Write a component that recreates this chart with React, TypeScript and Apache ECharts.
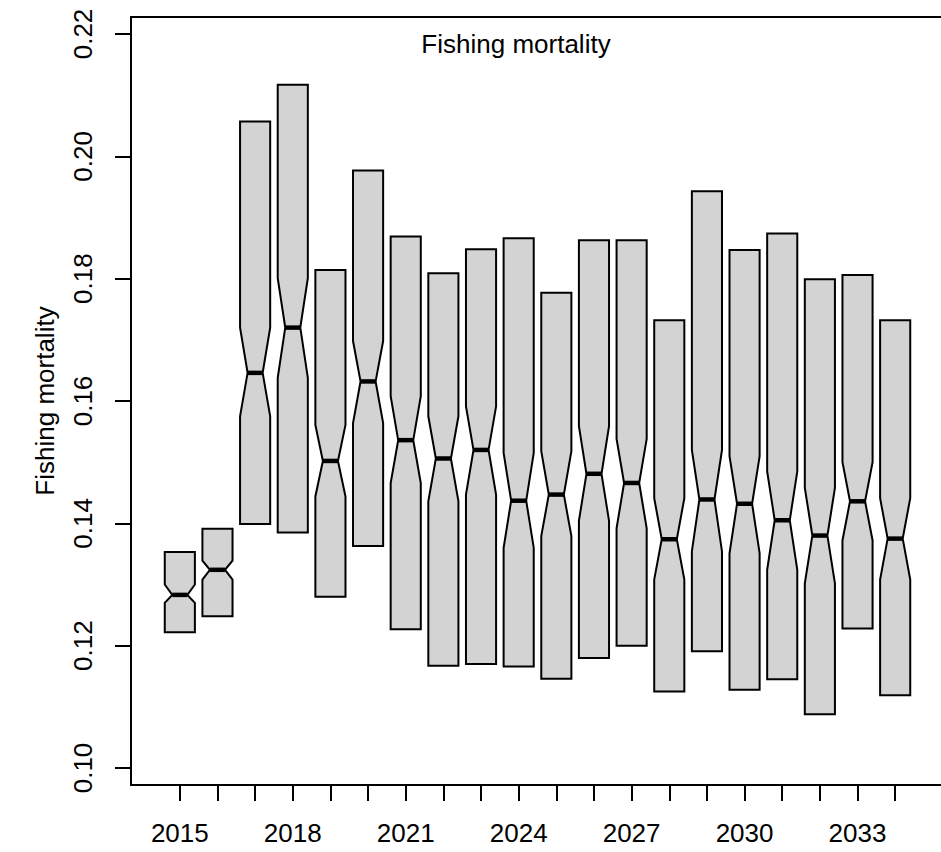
import React, { useEffect, useRef } from "react";
import * as echarts from "echarts";

const years = [2015, 2016, 2017, 2018, 2019, 2020, 2021, 2022, 2023, 2024, 2025, 2026, 2027, 2028, 2029, 2030, 2031, 2032, 2033, 2034];
const q1 = [0.1222, 0.1248, 0.1399, 0.1385, 0.1280, 0.1363, 0.1227, 0.1167, 0.1170, 0.1166, 0.1146, 0.1180, 0.1200, 0.1125, 0.1191, 0.1128, 0.1145, 0.1088, 0.1228, 0.1119];
const notchLo = [0.1270, 0.1308, 0.1575, 0.1638, 0.1444, 0.1564, 0.1466, 0.1436, 0.1447, 0.1360, 0.1379, 0.1404, 0.1392, 0.1308, 0.1354, 0.1351, 0.1324, 0.1302, 0.1372, 0.1308];
const median = [0.1283, 0.1324, 0.1646, 0.1720, 0.1502, 0.1632, 0.1536, 0.1506, 0.1520, 0.1437, 0.1447, 0.1481, 0.1466, 0.1374, 0.1439, 0.1432, 0.1405, 0.1380, 0.1436, 0.1375];
const notchHi = [0.1300, 0.1339, 0.1720, 0.1801, 0.1561, 0.1698, 0.1608, 0.1575, 0.1591, 0.1515, 0.1518, 0.1559, 0.1538, 0.1441, 0.1520, 0.1510, 0.1485, 0.1458, 0.1500, 0.1441];
const q3 = [0.1353, 0.1391, 0.2057, 0.2117, 0.1814, 0.1977, 0.1869, 0.1809, 0.1848, 0.1866, 0.1777, 0.1863, 0.1863, 0.1732, 0.1943, 0.1847, 0.1874, 0.1799, 0.1806, 0.1732];

const titleText = "Fishing mortality";
const yAxisTitle = "Fishing mortality";

const FONT = "'Liberation Sans', Arial, Helvetica, sans-serif";

export default function App() {
  const ref = useRef<HTMLDivElement>(null);
  useEffect(() => {
    if (!ref.current) return;
    const chart = echarts.init(ref.current, null, { renderer: "svg" });
    const data = years.map((_, i) => [i, q1[i], notchLo[i], median[i], notchHi[i], q3[i]]);
    const option: any = {
      animation: false,
      backgroundColor: "#ffffff",
      textStyle: { fontFamily: FONT },
      grid: { left: 161, top: 34, width: 753, height: 734 },
      xAxis: {
        type: "category",
        data: years.map(String),
        boundaryGap: true,
        offset: 17,
        axisLine: { show: false },
        axisTick: { show: true, alignWithLabel: true, interval: 0, length: 16, lineStyle: { color: "#000", width: 2 } },
        axisLabel: { interval: 2, margin: 35, color: "#000", fontSize: 26, fontFamily: FONT },
        splitLine: { show: false },
      },
      yAxis: {
        type: "value",
        min: 0.1,
        max: 0.22,
        interval: 0.02,
        offset: 30,
        axisLine: { show: false },
        axisTick: { show: true, length: 16, lineStyle: { color: "#000", width: 2 } },
        axisLabel: {
          rotate: 90,
          margin: 35,
          color: "#000",
          fontSize: 26,
          fontFamily: FONT,
          formatter: (v: number) => v.toFixed(2),
        },
        splitLine: { show: false },
      },
      graphic: [
        {
          type: "rect",
          shape: { x: 131, y: 17, width: 813, height: 768 },
          style: { fill: "none", stroke: "#000", lineWidth: 2 },
          silent: true,
        },
        {
          type: "text",
          x: 516,
          y: 44,
          style: { text: titleText, fontSize: 26, fontFamily: FONT, fill: "#000", align: "center", verticalAlign: "middle" },
        },
        {
          type: "text",
          x: 45,
          y: 401,
          rotation: Math.PI / 2,
          style: { text: yAxisTitle, fontSize: 26, fontFamily: FONT, fill: "#000", align: "center", verticalAlign: "middle" },
        },
      ],
      series: [
        {
          type: "custom",
          clip: false,
          encode: { x: 0, y: [1, 2, 3, 4, 5] },
          data,
          renderItem: (params: any, api: any) => {
            const idx = api.value(0);
            const band = api.size([1, 0])[0];
            const hw = band * 0.4;
            const nw = band * 0.2;
            const c = api.coord([idx, api.value(3)]);
            const cx = c[0];
            const y = (v: number) => api.coord([idx, v])[1];
            const yq1 = y(api.value(1));
            const ynl = y(api.value(2));
            const ym = y(api.value(3));
            const ynh = y(api.value(4));
            const yq3 = y(api.value(5));
            const pts = [
              [cx - hw, yq1],
              [cx + hw, yq1],
              [cx + hw, ynl],
              [cx + nw, ym],
              [cx + hw, ynh],
              [cx + hw, yq3],
              [cx - hw, yq3],
              [cx - hw, ynh],
              [cx - nw, ym],
              [cx - hw, ynl],
            ];
            return {
              type: "group",
              children: [
                {
                  type: "polygon",
                  shape: { points: pts },
                  style: { fill: "#D3D3D3", stroke: "#000", lineWidth: 2, lineJoin: "miter" },
                },
                {
                  type: "line",
                  shape: { x1: cx - nw, y1: ym, x2: cx + nw, y2: ym },
                  style: { stroke: "#000", lineWidth: 4.5 },
                },
              ],
            };
          },
        },
      ],
    };
    chart.setOption(option);
    return () => chart.dispose();
  }, []);
  return <div ref={ref} style={{ position: "fixed", left: 0, top: 0, width: 941, height: 852 }} />;
}
